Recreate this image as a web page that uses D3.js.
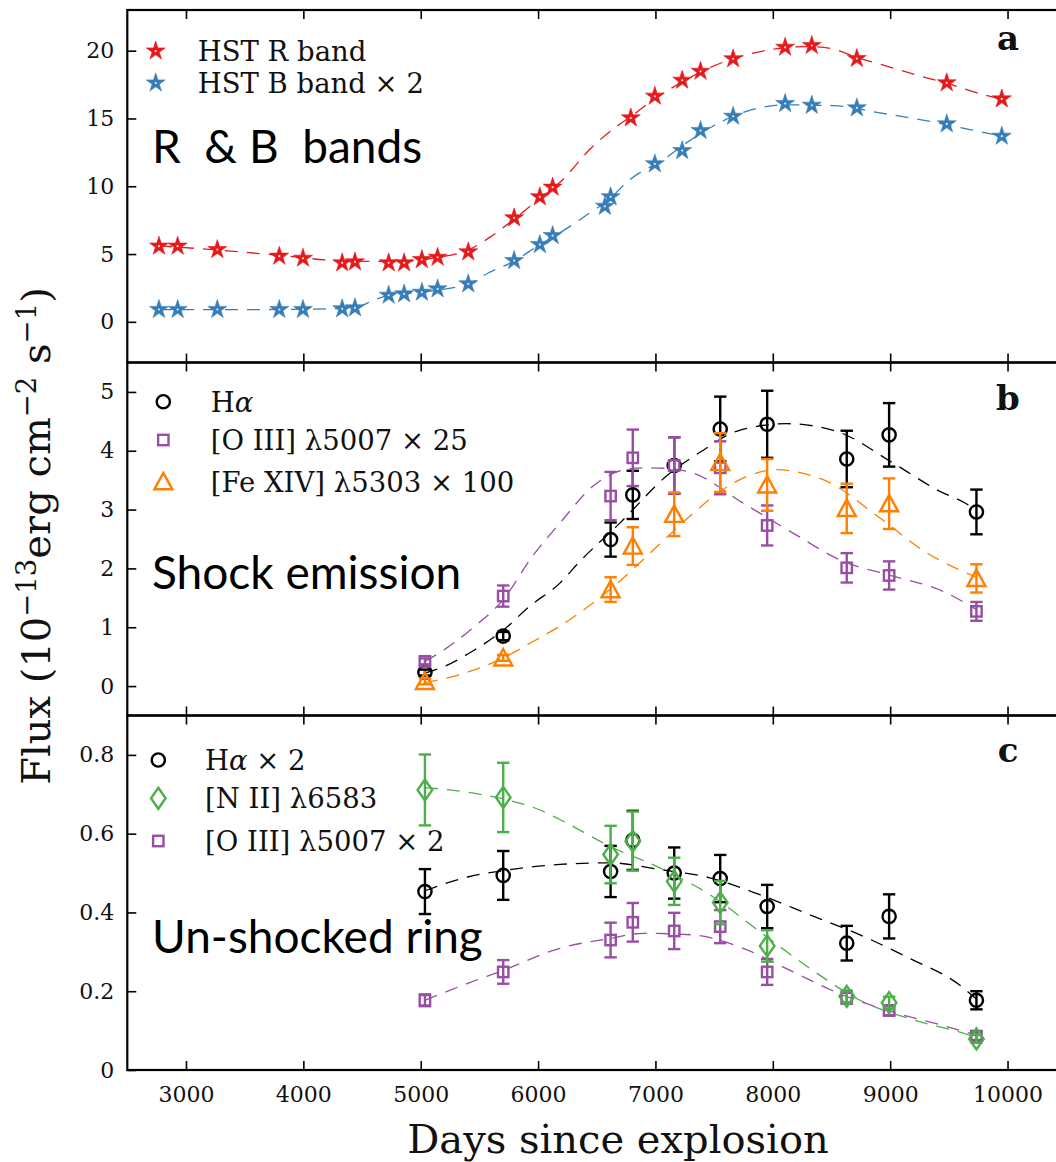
<!DOCTYPE html>
<html>
<head>
<meta charset="utf-8">
<script src="https://cdn.jsdelivr.net/npm/d3@7"></script>
<style>
  html, body { margin: 0; padding: 0; background: #fff; }
  svg { display: block; }
  text { white-space: pre; }
</style>
</head>
<body>
<svg id="chart" width="1056" height="1162"></svg>
<script>
// ---------- data ----------
const xTickValues = [3000, 4000, 5000, 6000, 7000, 8000, 9000, 10000];

// Panel a: HST photometry
const rDays = [2770, 2929, 3267, 3795, 3997, 4331, 4440, 4727, 4859, 5010, 5144, 5405, 5796, 6015, 6124,
               6790, 6995, 7228, 7384, 7662, 8105, 8332, 8716, 9482, 9951];
const rFlux = [5.58, 5.58, 5.33, 4.84, 4.69, 4.35, 4.42, 4.35, 4.35, 4.59, 4.76, 5.16, 7.67, 9.22, 9.93,
               15.04, 16.64, 17.82, 18.48, 19.40, 20.25, 20.38, 19.42, 17.63, 16.44];
const bDays = [2770, 2929, 3267, 3795, 3997, 4331, 4440, 4727, 4859, 5010, 5144, 5405, 5796, 6015, 6124,
               6569, 6618, 6995, 7228, 7384, 7662, 8105, 8332, 8716, 9482, 9951];
const bFlux = [0.91, 0.91, 0.91, 0.91, 0.91, 0.96, 1.03, 1.96, 2.06, 2.18, 2.43, 2.80, 4.52, 5.70, 6.36,
               8.52, 9.22, 11.65, 12.63, 14.11, 15.16, 16.10, 15.97, 15.78, 14.60, 13.69];
const rFit = [[2770, 5.6], [3267, 5.3], [3800, 4.9], [4331, 4.5], [4800, 4.45], [5144, 4.75], [5405, 5.3],
              [5600, 6.3], [5800, 7.6], [6000, 9.0], [6200, 10.4], [6450, 12.8], [6668, 14.4], [6800, 15.2],
              [7000, 16.5], [7230, 17.7], [7400, 18.5], [7660, 19.4], [8000, 20.1], [8300, 20.3], [8500, 20.15],
              [8716, 19.5], [8913, 19.0], [9310, 18.0], [9500, 17.55], [9736, 16.9], [9951, 16.4]];
const bFit = [[2770, 0.9], [3300, 0.9], [4000, 0.93], [4440, 1.05], [4600, 1.6], [4727, 1.95], [5010, 2.2],
              [5405, 2.8], [5575, 3.6], [5800, 4.5], [6015, 5.7], [6186, 6.56], [6399, 7.79], [6600, 9.0],
              [6782, 10.49], [7066, 11.97], [7384, 13.9], [7776, 15.53], [8105, 16.0], [8513, 15.95],
              [8913, 15.41], [9254, 14.92], [9680, 14.18], [9951, 13.7]];

// Panels b and c: spectroscopic epochs
const specDays = [5036, 5703, 6618, 6807, 7160, 7552, 7952, 8630, 8991, 9735];

// Panel b: shock emission
const haShock    = [0.23, 0.85, 2.49, 3.25, 3.75, 4.37, 4.45, 3.86, 4.27, 2.96];
const haShockErr = [0.05, 0.07, 0.29, 0.41, 0.48, 0.55, 0.57, 0.48, 0.54, 0.38];
const o3Shock    = [0.42, 1.53, 3.23, 3.88, 3.75, 3.71, 2.73, 2.01, 1.88, 1.27];
const o3ShockErr = [0.05, 0.18, 0.41, 0.48, 0.48, 0.45, 0.34, 0.25, 0.24, 0.16];
const fe14       = [0.08, 0.48, 1.64, 2.38, 2.92, 3.80, 3.42, 3.02, 3.10, 1.83];
const fe14Err    = [0.05, 0.05, 0.21, 0.32, 0.37, 0.50, 0.44, 0.42, 0.43, 0.24];
const haShockFit = [[5036, 0.22], [5207, 0.34], [5447, 0.6], [5703, 0.95], [5930, 1.36], [6186, 1.75],
                    [6356, 2.12], [6697, 2.77], [7094, 3.57], [7400, 4.0], [7691, 4.33], [8117, 4.46],
                    [8543, 4.33], [9025, 3.79], [9395, 3.34], [9680, 3.06], [9735, 2.98]];
const o3ShockFit = [[5036, 0.42], [5164, 0.57], [5450, 1.0], [5703, 1.47], [5950, 2.2], [6186, 2.77],
                    [6469, 3.40], [6700, 3.66], [6895, 3.71], [7100, 3.70], [7321, 3.62], [7747, 3.11],
                    [8173, 2.60], [8599, 2.12], [9025, 1.87], [9451, 1.61], [9735, 1.30]];
const fe14Fit    = [[5036, 0.06], [5164, 0.11], [5450, 0.27], [5703, 0.48], [5950, 0.75], [6186, 1.02],
                    [6612, 1.64], [7034, 2.41], [7300, 2.9], [7552, 3.31], [7800, 3.58], [8037, 3.68],
                    [8250, 3.62], [8463, 3.48], [8890, 2.89], [9316, 2.26], [9735, 1.85]];

// Panel c: un-shocked ring
const haRing    = [0.453, 0.494, 0.504, 0.583, 0.500, 0.486, 0.415, 0.322, 0.390, 0.177];
const haRingErr = [0.057, 0.062, 0.065, 0.075, 0.065, 0.060, 0.055, 0.044, 0.056, 0.023];
const n2Ring    = [0.711, 0.692, 0.547, 0.581, 0.479, 0.425, 0.315, 0.187, 0.171, 0.079];
const n2RingErr = [0.090, 0.088, 0.073, 0.075, 0.060, 0.055, 0.040, 0.015, 0.015, 0.010];
const o3Ring    = [0.177, 0.249, 0.330, 0.375, 0.353, 0.364, 0.249, 0.183, 0.151, 0.086];
const o3RingErr = [0.015, 0.030, 0.044, 0.049, 0.046, 0.042, 0.033, 0.015, 0.012, 0.010];
const haRingFit = [[5036, 0.455], [5400, 0.49], [5703, 0.506], [6186, 0.522], [6612, 0.526], [7038, 0.509],
                   [7464, 0.488], [7890, 0.445], [8316, 0.394], [8743, 0.343], [9169, 0.283], [9595, 0.215],
                   [9735, 0.18]];
const n2RingFit = [[5036, 0.717], [5400, 0.705], [5703, 0.688], [6000, 0.662], [6186, 0.636], [6612, 0.568],
                   [7038, 0.513], [7464, 0.445], [7890, 0.351], [8316, 0.258], [8743, 0.177], [9169, 0.130],
                   [9595, 0.096], [9735, 0.083]];
const o3RingFit = [[5036, 0.177], [5400, 0.22], [5703, 0.253], [6186, 0.309], [6612, 0.334], [6896, 0.347],
                   [7321, 0.343], [7747, 0.309], [8173, 0.249], [8599, 0.190], [9025, 0.147], [9451, 0.113],
                   [9735, 0.088]];

// ---------- styles ----------
const C = { red: "#e41a1c", blue: "#377eb8", purple: "#984ea3", orange: "#ff7f00", green: "#4daf4a", black: "#000" };
const SERIF = "'DejaVu Serif', serif";
const SANS = "Lato, 'Open Sans', sans-serif";

const svg = d3.select("#chart");
const plotLeft = 127.3, plotRight = 1058;
const x = d3.scaleLinear().domain([2500, 10430]).range([plotLeft, plotRight]);

const panels = [
  { id: "a", domain: [-3, 23], range: [362.5, 10], ticks: [0, 5, 10, 15, 20], fmt: d3.format("d"), labelY: 50,
    note: "R  & B  bands", noteY: 163 },
  { id: "b", domain: [-0.5, 5.5], range: [715.5, 362.5], ticks: [0, 1, 2, 3, 4, 5], fmt: d3.format("d"), labelY: 410,
    note: "Shock emission", noteY: 589 },
  { id: "c", domain: [0, 0.9], range: [1070, 715.5], ticks: [0, 0.2, 0.4, 0.6, 0.8],
    fmt: d => d === 0 ? "0" : d3.format(".1f")(d), labelY: 762, note: "Un-shocked ring", noteY: 953 }
];
panels.forEach(p => { p.y = d3.scaleLinear().domain(p.domain).range(p.range); });

// ---------- markers ----------
const starPath = d3.symbol(d3.symbolStar, 112)();
function drawMarker(g, type, color, cx, cy) {
  const m = g.append("g").attr("transform", `translate(${cx},${cy})`);
  if (type === "star") {
    m.append("path").attr("d", starPath).attr("fill", color).attr("stroke", color).attr("stroke-width", 0.6);
    m.append("circle").attr("r", 1.1).attr("fill", "#fff").attr("opacity", 0.85);
  } else if (type === "circle") {
    m.append("circle").attr("r", 6.6).attr("fill", "none").attr("stroke", color).attr("stroke-width", 2.4);
  } else if (type === "square") {
    m.append("rect").attr("x", -5.2).attr("y", -5.2).attr("width", 10.4).attr("height", 10.4)
      .attr("fill", "none").attr("stroke", color).attr("stroke-width", 2.4);
  } else if (type === "triangle") {
    m.append("path").attr("d", "M0,-8.8L9,7.6L-9,7.6Z").attr("fill", "none")
      .attr("stroke", color).attr("stroke-width", 2.4).attr("stroke-linejoin", "miter");
  } else if (type === "diamond") {
    m.append("path").attr("d", "M0,-10.5L7.3,0L0,10.5L-7.3,0Z").attr("fill", "none")
      .attr("stroke", color).attr("stroke-width", 2.4);
  }
}

function drawFit(g, y, pts, color) {
  const line = d3.line().x(d => x(d[0])).y(d => y(d[1])).curve(d3.curveMonotoneX);
  g.append("path").attr("d", line(pts)).attr("fill", "none").attr("stroke", color)
    .attr("stroke-width", 1.3).attr("stroke-dasharray", "13,9");
}

function drawSeries(g, y, days, vals, errs, type, color) {
  days.forEach((dday, i) => {
    const cx = x(dday), cy = y(vals[i]);
    if (errs) {
      const y0 = y(vals[i] - errs[i]), y1 = y(vals[i] + errs[i]);
      const eb = g.append("g").attr("stroke", color).attr("stroke-width", 2.4);
      eb.append("line").attr("x1", cx).attr("x2", cx).attr("y1", y0).attr("y2", y1);
      eb.append("line").attr("x1", cx - 6.2).attr("x2", cx + 6.2).attr("y1", y0).attr("y2", y0);
      eb.append("line").attr("x1", cx - 6.2).attr("x2", cx + 6.2).attr("y1", y1).attr("y2", y1);
    }
    drawMarker(g, type, color, cx, cy);
  });
}

function drawLegend(g, items, mx, tx, ys) {
  items.forEach((it, i) => {
    drawMarker(g, it.type, it.color, mx, ys[i]);
    const t = g.append("text").attr("x", tx).attr("y", ys[i] + 10)
      .style("font-family", SERIF).attr("font-size", 27.5).attr("fill", "#111");
    it.parts.forEach(pt => {
      const s = t.append("tspan").style("font-family", SERIF).text(pt[0]);
      if (pt[1] === "i") s.attr("font-style", "italic");
    });
  });
}

// ---------- panels ----------
panels.forEach((p, idx) => {
  const g = svg.append("g").attr("class", "panel-" + p.id);
  const y = p.y;
  const top = p.range[1], bottom = p.range[0];

  // inward ticks on bottom, top and left
  const axB = g.append("g").attr("transform", `translate(0,${bottom})`)
    .call(d3.axisBottom(x).tickValues(xTickValues).tickSize(-9).tickPadding(16).tickFormat(d3.format("d")));
  const axT = g.append("g").attr("transform", `translate(0,${top})`)
    .call(d3.axisTop(x).tickValues(xTickValues).tickSize(-9).tickFormat(""));
  const axL = g.append("g").attr("transform", `translate(${plotLeft},0)`)
    .call(d3.axisLeft(y).tickValues(p.ticks).tickSize(-9).tickPadding(13).tickFormat(p.fmt));
  [axB, axT, axL].forEach(a => {
    a.select(".domain").remove();
    a.attr("font-family", null).attr("font-size", null);
    a.selectAll(".tick line").attr("stroke", "#000").attr("stroke-width", 1.6);
    a.selectAll("text").style("font-family", SERIF).attr("font-size", 22).attr("fill", "#111");
  });
  if (idx < panels.length - 1) axB.selectAll("text").remove();

  // frame
  g.append("rect").attr("x", plotLeft).attr("y", top).attr("width", plotRight - plotLeft).attr("height", bottom - top)
    .attr("fill", "none").attr("stroke", "#000").attr("stroke-width", 2.2);

  // panel letter
  g.append("text").attr("x", 1008).attr("y", p.labelY).attr("text-anchor", "middle")
    .style("font-family", SERIF).attr("font-weight", "bold").attr("font-size", 34).attr("fill", "#111").text(p.id);

  // annotation
  g.append("text").attr("x", 152).attr("y", p.noteY).style("font-family", SANS).attr("font-size", 46)
    .attr("fill", "#000").text(p.note);
});

// Panel a content
{
  const g = svg.append("g"), y = panels[0].y;
  drawFit(g, y, rFit, C.red);
  drawFit(g, y, bFit, C.blue);
  drawSeries(g, y, rDays, rFlux, null, "star", C.red);
  drawSeries(g, y, bDays, bFlux, null, "star", C.blue);
  drawLegend(g, [
    { type: "star", color: C.red, parts: [["HST R band"]] },
    { type: "star", color: C.blue, parts: [["HST B band × 2"]] }
  ], 155.7, 197.7, [51, 83]);
}

// Panel b content
{
  const g = svg.append("g"), y = panels[1].y;
  drawFit(g, y, haShockFit, C.black);
  drawFit(g, y, o3ShockFit, C.purple);
  drawFit(g, y, fe14Fit, C.orange);
  drawSeries(g, y, specDays, haShock, haShockErr, "circle", C.black);
  drawSeries(g, y, specDays, o3Shock, o3ShockErr, "square", C.purple);
  drawSeries(g, y, specDays, fe14, fe14Err, "triangle", C.orange);
  drawLegend(g, [
    { type: "circle", color: C.black, parts: [["H"], ["α", "i"]] },
    { type: "square", color: C.purple, parts: [["[O III] λ5007 × 25"]] },
    { type: "triangle", color: C.orange, parts: [["[Fe XIV] λ5303 × 100"]] }
  ], 163.3, 210.7, [401.7, 440, 481.7]);
}

// Panel c content
{
  const g = svg.append("g"), y = panels[2].y;
  drawFit(g, y, haRingFit, C.black);
  drawFit(g, y, n2RingFit, C.green);
  drawFit(g, y, o3RingFit, C.purple);
  drawSeries(g, y, specDays, haRing, haRingErr, "circle", C.black);
  drawSeries(g, y, specDays, o3Ring, o3RingErr, "square", C.purple);
  drawSeries(g, y, specDays, n2Ring, n2RingErr, "diamond", C.green);
  drawLegend(g, [
    { type: "circle", color: C.black, parts: [["H"], ["α", "i"], [" × 2"]] },
    { type: "diamond", color: C.green, parts: [["[N II] λ6583"]] },
    { type: "square", color: C.purple, parts: [["[O III] λ5007 × 2"]] }
  ], 158.3, 205, [760, 798.3, 841]);
}

// ---------- axis titles ----------
svg.append("text").attr("x", 618).attr("y", 1153).attr("text-anchor", "middle")
  .style("font-family", SERIF).attr("font-size", 40).attr("fill", "#111").text("Days since explosion");

const yt = svg.append("text").attr("transform", "translate(50,536) rotate(-90)").attr("text-anchor", "middle")
  .style("font-family", SERIF).attr("font-size", 40).attr("fill", "#111");
yt.append("tspan").text("Flux (10");
yt.append("tspan").attr("font-size", 27.5).attr("dy", -14).text("−13");
yt.append("tspan").attr("dy", 14).text("erg cm");
yt.append("tspan").attr("font-size", 27.5).attr("dy", -14).text("−2");
yt.append("tspan").attr("dy", 14).text(" s");
yt.append("tspan").attr("font-size", 27.5).attr("dy", -14).text("−1");
yt.append("tspan").attr("dy", 14).text(")");
</script>
</body>
</html>
